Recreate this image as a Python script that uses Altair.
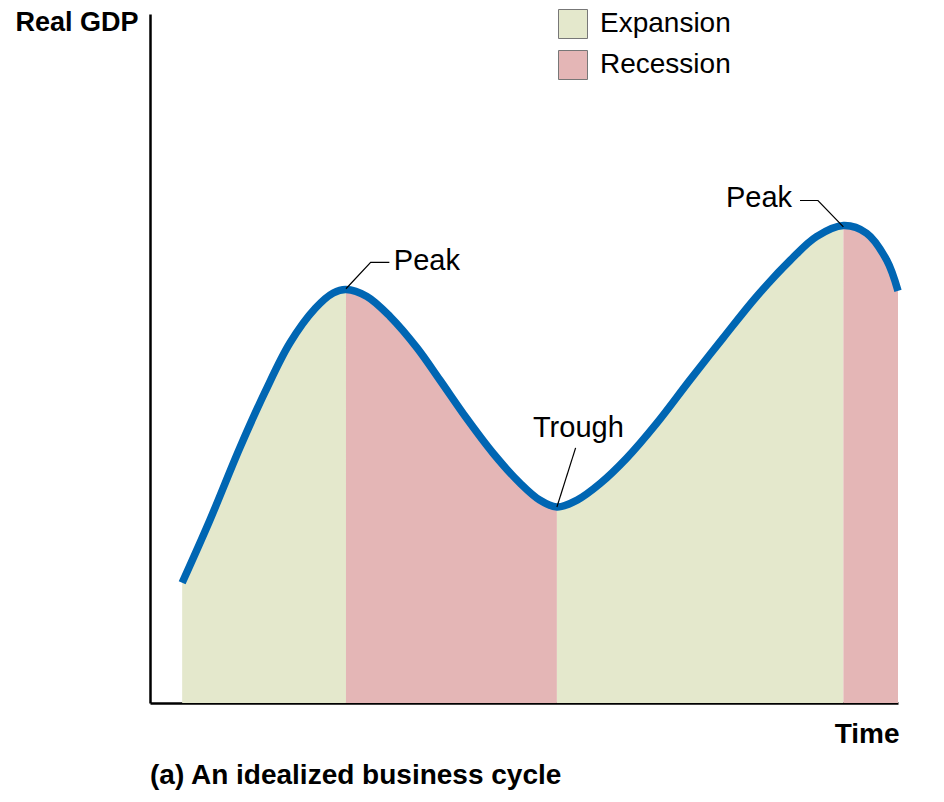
import altair as alt
import pandas as pd

# curve (time 0-100, real GDP 0-100)
time = [4.3, 8.0, 12.0, 15.4, 18.7, 22.1, 24.5, 26.2, 29.0, 32.1, 35.7,
        38.8, 42.3, 45.9, 49.5, 52.1, 54.4, 57.1, 60.2, 63.7, 67.7, 72.2,
        76.6, 81.1, 85.6, 89.1, 92.7, 95.8, 98.5, 100.0]
gdp = [17.3, 26.3, 36.7, 44.8, 51.8, 56.8, 59.0, 59.5, 58.5, 55.6, 51.1,
       46.4, 41.0, 35.9, 31.6, 29.2, 28.2, 29.2, 31.6, 35.2, 40.2, 46.5,
       52.5, 58.5, 63.7, 67.1, 68.7, 67.6, 63.7, 59.3]

# phase boundaries (start, peak, trough, peak, end)
turning = [4.3, 26.2, 54.4, 92.7, 100.0]
phases = ["Expansion", "Recession", "Expansion", "Recession"]

# annotations
label_text = ["Peak", "Trough", "Peak"]
label_t = [32.6, 51.2, 77.0]
label_g = [62.3, 38.3, 71.4]

leader_id = [0, 0, 0, 1, 1, 2, 2, 2]
leader_t = [26.2, 29.5, 32.0, 54.4, 56.9, 86.9, 89.3, 92.7]
leader_g = [59.6, 63.4, 63.4, 28.2, 36.7, 72.3, 72.3, 68.5]

FONT = "Liberation Sans"
PLOT_H = 689  # plot area from page y=14 to the x axis at y=703

curve = pd.DataFrame({"t": time, "g": gdp})

rows = []
for i, ph in enumerate(phases):
    for t, g in zip(time, gdp):
        if turning[i] <= t <= turning[i + 1]:
            rows.append({"t": t, "g": g, "seg": i, "phase": ph})
areas_df = pd.DataFrame(rows)

labels = pd.DataFrame({"text": label_text, "t": label_t, "g": label_g})
leaders = pd.DataFrame({"id": leader_id, "t": leader_t, "g": leader_g})

x = alt.X("t:Q", scale=alt.Scale(domain=[0, 100], nice=False, zero=False),
          axis=alt.Axis(title="Time", labels=False, ticks=False, grid=False,
                        domainColor="black", domainWidth=2.5,
                        titleFont=FONT, titleFontSize=28, titleFontWeight="bold",
                        titleColor="black", titleAlign="right",
                        titleBaseline="alphabetic", titleX=749, titleY=39))
y = alt.Y("g:Q", scale=alt.Scale(domain=[0, PLOT_H / 6.95], nice=False),
          stack=None,
          axis=alt.Axis(title="Real GDP", labels=False, ticks=False, grid=False,
                        domainColor="black", domainWidth=2.5,
                        titleFont=FONT, titleFontSize=27, titleFontWeight="bold",
                        titleColor="black", titleAngle=0, titleAlign="right",
                        titleBaseline="alphabetic", titleX=-12, titleY=16))

area = alt.Chart(areas_df).mark_area(interpolate="catmull-rom", opacity=1).encode(
    x=x, y=y,
    color=alt.Color("phase:N",
                    scale=alt.Scale(domain=["Expansion", "Recession"],
                                    range=["#e4e8cc", "#e4b6b6"]),
                    legend=alt.Legend(title=None, orient="none",
                                      legendX=408, legendY=-5, padding=0,
                                      symbolType="square", symbolSize=841,
                                      symbolStrokeColor="#777777",
                                      symbolStrokeWidth=1, symbolOpacity=1,
                                      labelFont=FONT, labelFontSize=28,
                                      labelColor="black", labelOffset=12,
                                      rowPadding=7)),
    detail="seg:N")

line = alt.Chart(curve).mark_line(
    interpolate="catmull-rom", color="#0066b3", strokeWidth=7.5, strokeCap="butt"
).encode(x="t:Q", y="g:Q")

leader = alt.Chart(leaders).mark_line(color="black", strokeWidth=1.2).encode(
    x="t:Q", y="g:Q", detail="id:N")

text = alt.Chart(labels).mark_text(
    align="left", baseline="alphabetic", font=FONT, fontSize=29, color="black"
).encode(x="t:Q", y="g:Q", text="text:N")

chart = alt.layer(area, line, leader, text).properties(
    width=748, height=PLOT_H,
    autosize=alt.AutoSizeParams(type="none"),
    padding={"left": 142, "top": 6, "right": 16, "bottom": 91},
    title=alt.TitleParams("(a) An idealized business cycle", orient="bottom",
                          anchor="start", frame="group", font=FONT,
                          fontSize=28, fontWeight="bold", color="black",
                          offset=36, baseline="alphabetic"),
).configure_view(stroke=None)

chart.save("out.html", embed_options={"renderer": "svg", "actions": False})
